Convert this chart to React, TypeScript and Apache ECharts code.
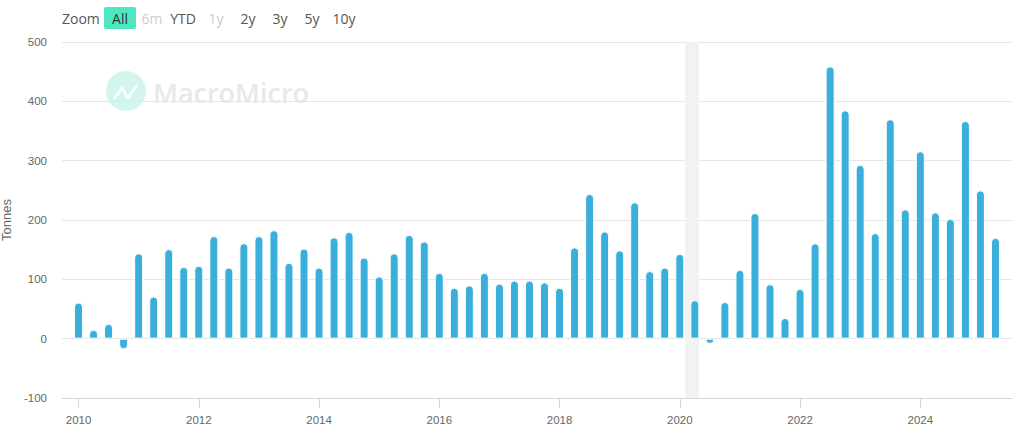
import React, { useEffect, useRef } from "react";
import * as echarts from "echarts";

const years = [2010, 2011, 2012, 2013, 2014, 2015, 2016, 2017, 2018, 2019, 2020, 2021, 2022, 2023, 2024, 2025];
const quarterOffsets = [0, 0.25, 0.5, 0.75];
const values = [
  61, 15, 25, -18,
  144, 71, 151, 121,
  123, 173, 120, 161,
  173, 183, 128, 152,
  120, 171, 180, 137,
  105, 144, 175, 164,
  111, 86, 90, 111,
  93, 98, 98, 95,
  86, 154, 244, 181,
  149, 230, 114, 120,
  143, 65, -9, 62,
  116, 212, 92, 35,
  84, 161, 459, 385,
  293, 178, 370, 218,
  316, 213, 202, 367,
  250, 170,
];
const tickYears = [2010, 2012, 2014, 2016, 2018, 2020, 2022, 2024];
const zoomButtons = [
  { label: "6m", x: 152, color: "#cccccc" },
  { label: "YTD", x: 183, color: "#555555" },
  { label: "1y", x: 216, color: "#cccccc" },
  { label: "2y", x: 248, color: "#555555" },
  { label: "3y", x: 280, color: "#555555" },
  { label: "5y", x: 312, color: "#555555" },
  { label: "10y", x: 344, color: "#555555" },
];
const FONT = '"Open Sans", "Noto Sans", sans-serif';
const AXIS_FONT = '"Liberation Sans", Arial, sans-serif';

export default function App() {
  const ref = useRef<HTMLDivElement>(null);
  useEffect(() => {
    document.body.style.margin = "0";
    const chart = echarts.init(ref.current!, null, { renderer: "svg" });
    const points: [number, number][] = [];
    years.forEach((y, i) =>
      quarterOffsets.forEach((q, j) => {
        const v = values[i * 4 + j];
        if (v !== undefined) points.push([y + q, v]);
      })
    );
    chart.setOption({
      animation: false,
      backgroundColor: "#ffffff",
      grid: { left: 62, right: 16, top: 42, bottom: 36, outerBoundsMode: "none" },
      xAxis: {
        type: "value",
        min: 2009.725,
        max: 2025.525,
        interval: 0.025,
        splitLine: { show: false },
        axisLine: { onZero: false, lineStyle: { color: "#d8d8d8", width: 1 } },
        axisTick: { show: true, customValues: tickYears, length: 10, lineStyle: { color: "#d8d8d8" } },
        axisLabel: {
          customValues: tickYears,
          formatter: (v: number) => String(v),
          color: "#666666",
          fontSize: 11.5,
          fontFamily: AXIS_FONT,
          margin: 16,
          hideOverlap: false,
        },
      },
      yAxis: {
        type: "value",
        min: -100,
        max: 500,
        interval: 100,
        name: "Tonnes",
        nameLocation: "middle",
        nameGap: 46,
        nameTextStyle: { color: "#666666", fontSize: 13, fontFamily: AXIS_FONT },
        axisLine: { show: false },
        axisTick: { show: false },
        axisLabel: { color: "#666666", fontSize: 11.5, fontFamily: AXIS_FONT, margin: 15 },
        splitLine: { lineStyle: { color: "#e6e6e6", width: 1 } },
      },
      series: [
        {
          type: "bar",
          data: points.map(([t, v]) => ({
            value: [t, v],
            itemStyle: { borderRadius: v >= 0 ? [4, 4, 0, 0] : [0, 0, 4, 4] },
          })),
          barWidth: 9,
          itemStyle: { color: "#3bafdc", borderColor: "#ffffff", borderWidth: 1 },
          markArea: {
            silent: true,
            itemStyle: { color: "#f2f2f2" },
            data: [[{ xAxis: 2020.09 }, { xAxis: 2020.32 }]],
          },
        },
      ],
      graphic: [
        { type: "circle", z: 0, shape: { cx: 126, cy: 91, r: 20 }, style: { fill: "#d2f6ed" } },
        {
          type: "polyline",
          z: 1,
          shape: { points: [[114, 99], [122, 88], [128, 98], [137, 85]] },
          style: { stroke: "#ffffff", lineWidth: 2.5, fill: "none" },
        },
        {
          type: "text",
          z: 1,
          x: 153,
          y: 92,
          style: { text: "MacroMicro", fill: "#e7e8e9", font: `600 27px ${FONT}`, textAlign: "left", textVerticalAlign: "middle" },
        },
        {
          type: "text",
          x: 62,
          y: 18,
          style: { text: "Zoom", fill: "#555555", font: `14px ${FONT}`, textVerticalAlign: "middle" },
        },
        { type: "rect", shape: { x: 104, y: 7, width: 32, height: 22, r: 2 }, style: { fill: "#4de8c2" } },
        {
          type: "text",
          x: 120,
          y: 18,
          style: { text: "All", fill: "#333333", font: `14px ${FONT}`, textAlign: "center", textVerticalAlign: "middle" },
        },
        ...zoomButtons.map((b) => ({
          type: "text",
          x: b.x,
          y: 18,
          style: { text: b.label, fill: b.color, font: `14px ${FONT}`, textAlign: "center", textVerticalAlign: "middle" },
        })),
      ],
    });
    return () => chart.dispose();
  }, []);
  return <div ref={ref} style={{ position: "absolute", left: 0, top: 0, width: 1028, height: 434 }} />;
}
